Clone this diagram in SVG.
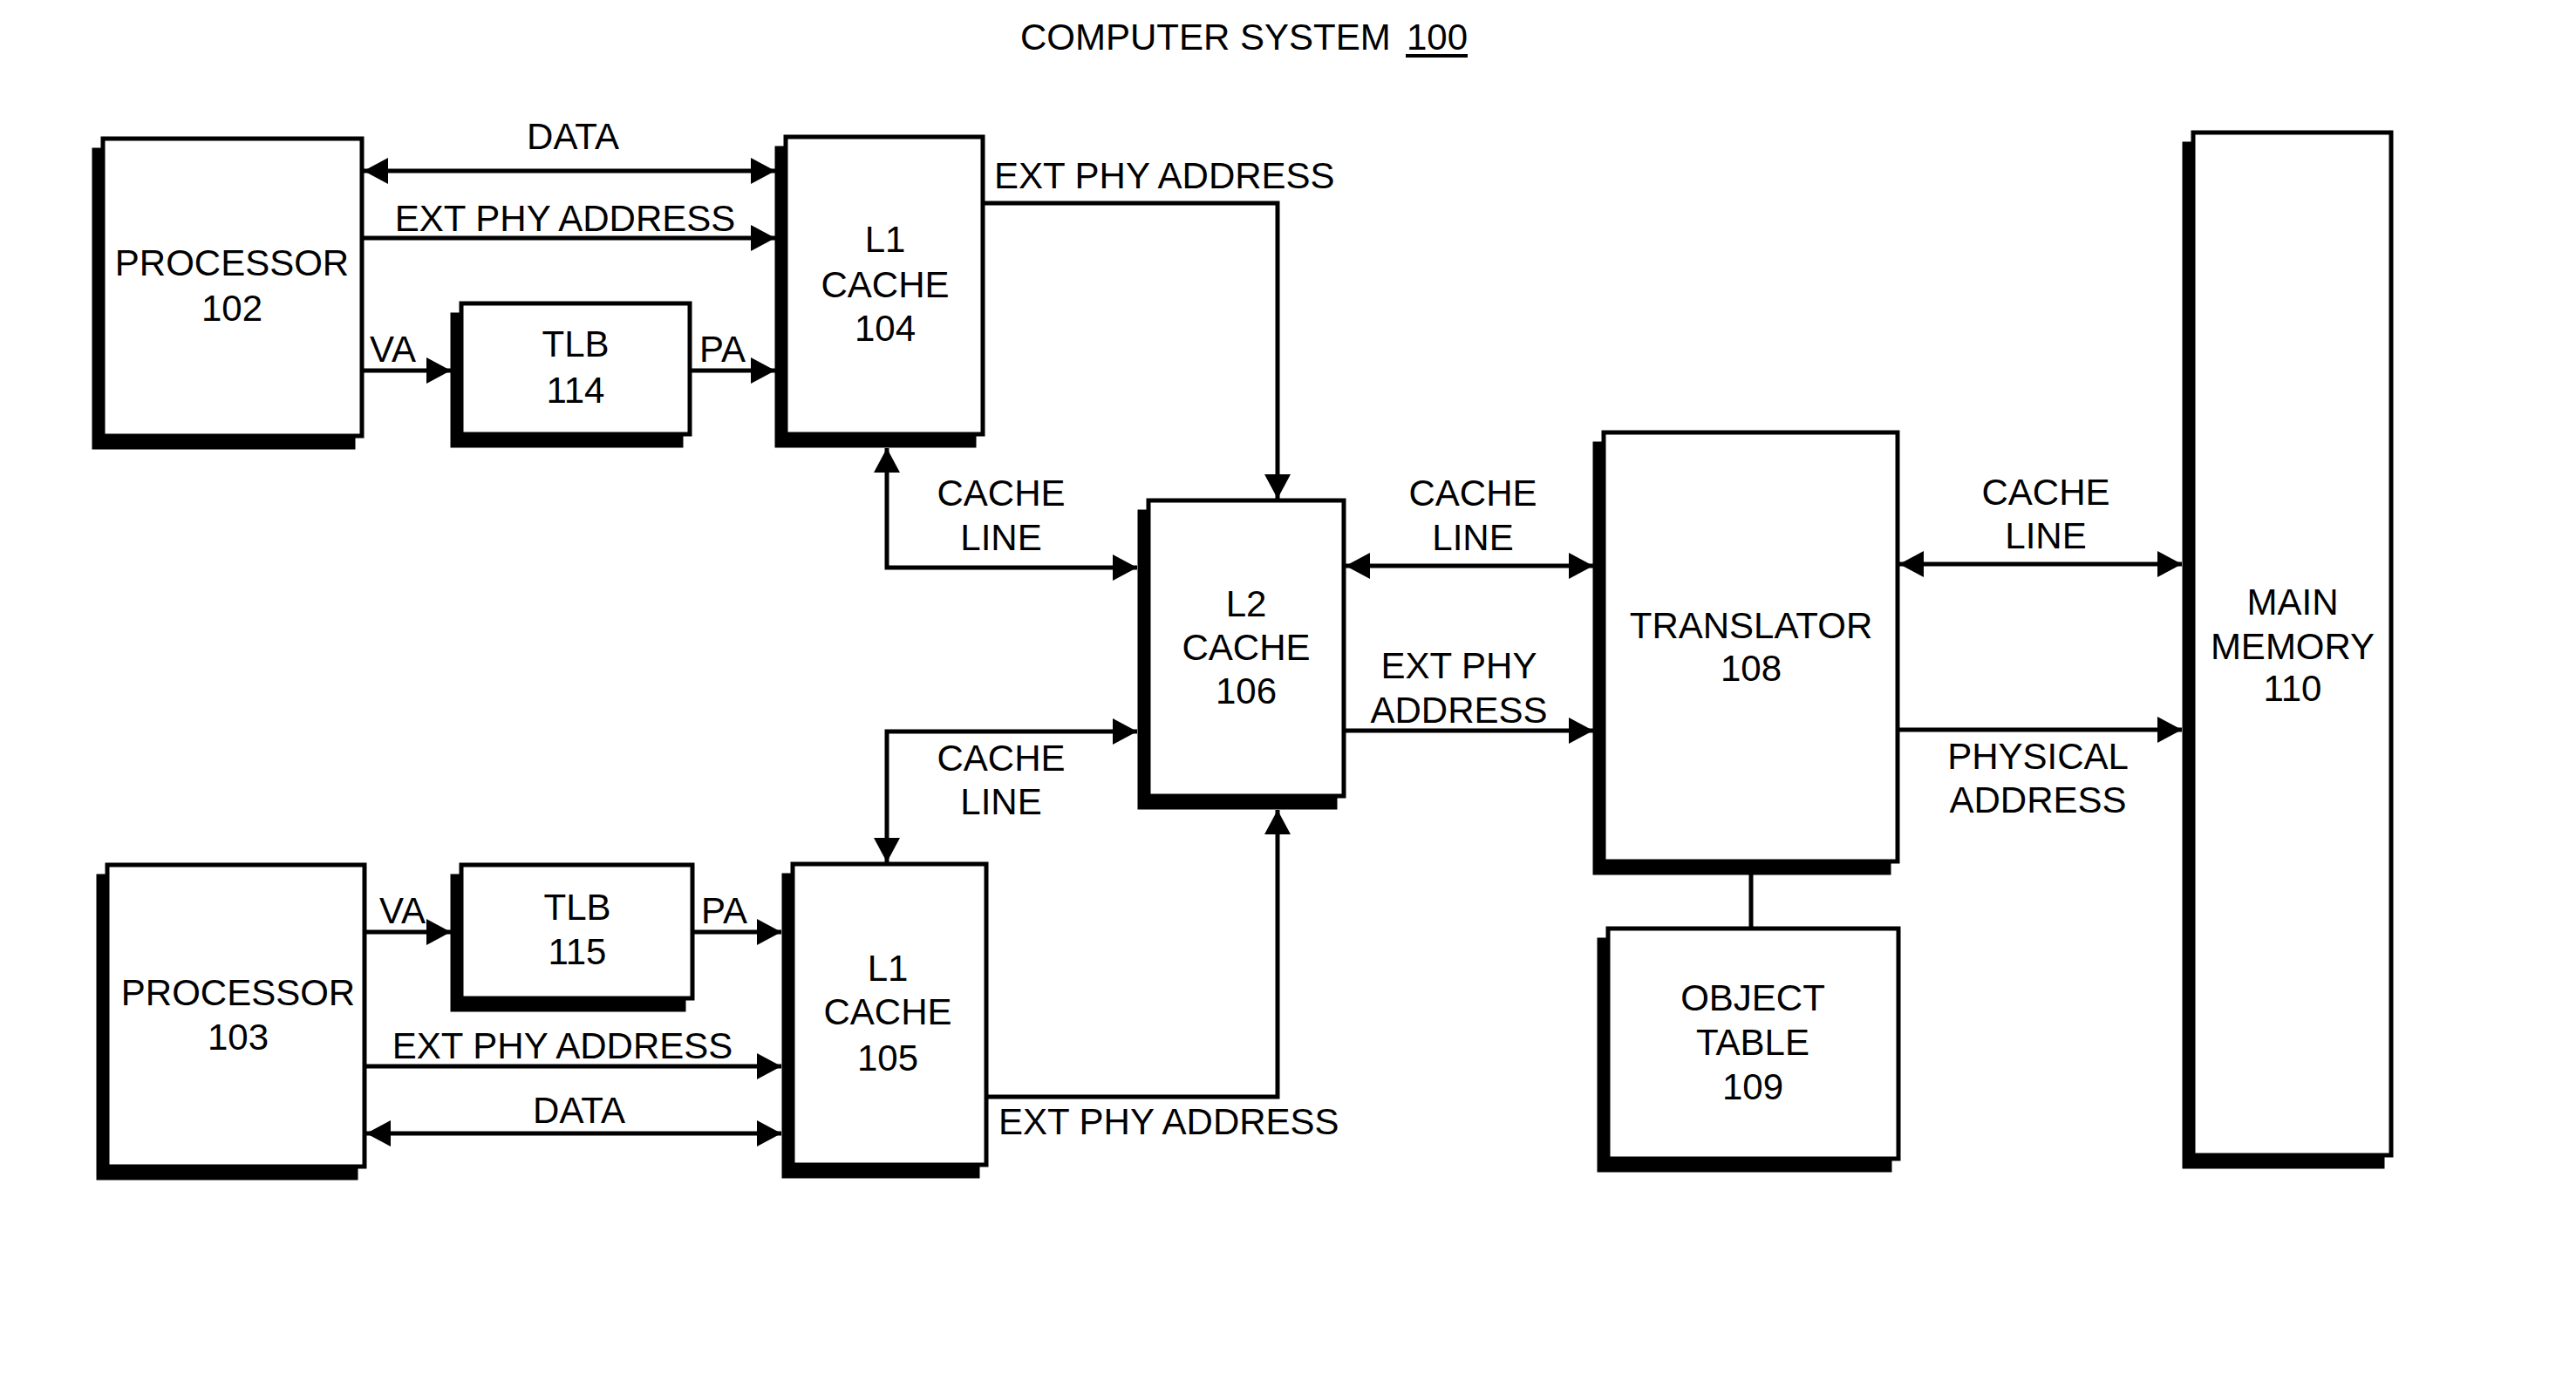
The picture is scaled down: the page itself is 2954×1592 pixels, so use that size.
<svg xmlns="http://www.w3.org/2000/svg" width="2954" height="1592" viewBox="0 0 2954 1592">
<defs>
<style>
text{font-family:"Liberation Sans",Arial,Helvetica,sans-serif;font-size:42px;fill:#000}
.c{text-anchor:middle}
.sh{fill:#000;stroke:#000;stroke-width:5}
.bx{fill:#fff;stroke:#000;stroke-width:5}
.ln{fill:none;stroke:#000;stroke-width:5}
</style>
<marker id="ah" markerUnits="userSpaceOnUse" markerWidth="28" markerHeight="30" refX="28" refY="15" orient="auto-start-reverse" viewBox="0 0 28 30">
<path d="M0,0 L28,15 L0,30 z" fill="#000"/>
</marker>
</defs>
<rect width="2954" height="1592" fill="#fff"/>
<g id="title">
<text x="1170" y="57">COMPUTER SYSTEM</text>
<text x="1613" y="57">100</text>
<line x1="1612" y1="64" x2="1683" y2="64" stroke="#000" stroke-width="4"/>
</g>
<g id="connectors">
<line class="ln" x1="417" y1="196" x2="889" y2="196" marker-start="url(#ah)" marker-end="url(#ah)"/>
<line class="ln" x1="417" y1="273" x2="889" y2="273" marker-end="url(#ah)"/>
<line class="ln" x1="417" y1="425" x2="517" y2="425" marker-end="url(#ah)"/>
<line class="ln" x1="793" y1="425" x2="889" y2="425" marker-end="url(#ah)"/>
<path class="ln" d="M1129,233 H1465 V572" marker-end="url(#ah)"/>
<path class="ln" d="M1017,514 V651 H1304" marker-start="url(#ah)" marker-end="url(#ah)"/>
<path class="ln" d="M1304,839 H1017 V989" marker-start="url(#ah)" marker-end="url(#ah)"/>
<path class="ln" d="M1133,1258 H1465 V929" marker-end="url(#ah)"/>
<line class="ln" x1="1543" y1="649" x2="1827" y2="649" marker-start="url(#ah)" marker-end="url(#ah)"/>
<line class="ln" x1="1543" y1="838" x2="1827" y2="838" marker-end="url(#ah)"/>
<line class="ln" x1="2178" y1="647" x2="2502" y2="647" marker-start="url(#ah)" marker-end="url(#ah)"/>
<line class="ln" x1="2178" y1="837" x2="2502" y2="837" marker-end="url(#ah)"/>
<line class="ln" x1="2008" y1="1001" x2="2008" y2="1065"/>
<line class="ln" x1="420" y1="1069" x2="517" y2="1069" marker-end="url(#ah)"/>
<line class="ln" x1="796" y1="1069" x2="896" y2="1069" marker-end="url(#ah)"/>
<line class="ln" x1="420" y1="1223" x2="896" y2="1223" marker-end="url(#ah)"/>
<line class="ln" x1="420" y1="1300" x2="896" y2="1300" marker-start="url(#ah)" marker-end="url(#ah)"/>
</g>
<g id="labels">
<text class="c" x="657" y="171">DATA</text>
<text class="c" x="648" y="265">EXT PHY ADDRESS</text>
<text x="424" y="415">VA</text>
<text x="802" y="415">PA</text>
<text x="1140" y="216">EXT PHY ADDRESS</text>
<text class="c" x="1148" y="580">CACHE</text>
<text class="c" x="1148" y="631">LINE</text>
<text class="c" x="1689" y="580">CACHE</text>
<text class="c" x="1689" y="631">LINE</text>
<text class="c" x="1673" y="778">EXT PHY</text>
<text class="c" x="1673" y="829">ADDRESS</text>
<text class="c" x="1148" y="884">CACHE</text>
<text class="c" x="1148" y="934">LINE</text>
<text class="c" x="2346" y="579">CACHE</text>
<text class="c" x="2346" y="629">LINE</text>
<text class="c" x="2337" y="882">PHYSICAL</text>
<text class="c" x="2337" y="932">ADDRESS</text>
<text x="435" y="1059">VA</text>
<text x="804" y="1059">PA</text>
<text class="c" x="645" y="1214">EXT PHY ADDRESS</text>
<text class="c" x="664" y="1288">DATA</text>
<text x="1145" y="1301">EXT PHY ADDRESS</text>
</g>
<g id="processor102">
<rect class="sh" x="108" y="172" width="297" height="341"/>
<rect class="bx" x="118" y="159" width="297" height="341"/>
<text class="c" x="266" y="316">PROCESSOR</text>
<text class="c" x="266" y="368">102</text>
</g>
<g id="tlb114">
<rect class="sh" x="519" y="361" width="262" height="150"/>
<rect class="bx" x="529" y="348" width="262" height="150"/>
<text class="c" x="660" y="409">TLB</text>
<text class="c" x="660" y="462">114</text>
</g>
<g id="l1cache104">
<rect class="sh" x="891" y="170" width="226" height="341"/>
<rect class="bx" x="901" y="157" width="226" height="341"/>
<text class="c" x="1015" y="289">L1</text>
<text class="c" x="1015" y="341">CACHE</text>
<text class="c" x="1015" y="391">104</text>
</g>
<g id="l2cache106">
<rect class="sh" x="1307" y="587" width="224" height="339"/>
<rect class="bx" x="1317" y="574" width="224" height="339"/>
<text class="c" x="1429" y="707">L2</text>
<text class="c" x="1429" y="757">CACHE</text>
<text class="c" x="1429" y="807">106</text>
</g>
<g id="translator108">
<rect class="sh" x="1829" y="509" width="337" height="492"/>
<rect class="bx" x="1839" y="496" width="337" height="492"/>
<text class="c" x="2008" y="732">TRANSLATOR</text>
<text class="c" x="2008" y="781">108</text>
</g>
<g id="objecttable109">
<rect class="sh" x="1834" y="1078" width="333" height="264"/>
<rect class="bx" x="1844" y="1065" width="333" height="264"/>
<text class="c" x="2010" y="1159">OBJECT</text>
<text class="c" x="2010" y="1210">TABLE</text>
<text class="c" x="2010" y="1261">109</text>
</g>
<g id="mainmemory110">
<rect class="sh" x="2505" y="165" width="227" height="1173"/>
<rect class="bx" x="2515" y="152" width="227" height="1173"/>
<text class="c" x="2629" y="705">MAIN</text>
<text class="c" x="2629" y="756">MEMORY</text>
<text class="c" x="2629" y="804">110</text>
</g>
<g id="processor103">
<rect class="sh" x="113" y="1005" width="295" height="346"/>
<rect class="bx" x="123" y="992" width="295" height="346"/>
<text class="c" x="273" y="1153">PROCESSOR</text>
<text class="c" x="273" y="1204">103</text>
</g>
<g id="tlb115">
<rect class="sh" x="519" y="1005" width="265" height="153"/>
<rect class="bx" x="529" y="992" width="265" height="153"/>
<text class="c" x="662" y="1055">TLB</text>
<text class="c" x="662" y="1106">115</text>
</g>
<g id="l1cache105">
<rect class="sh" x="899" y="1004" width="222" height="345"/>
<rect class="bx" x="909" y="991" width="222" height="345"/>
<text class="c" x="1018" y="1125">L1</text>
<text class="c" x="1018" y="1175">CACHE</text>
<text class="c" x="1018" y="1228">105</text>
</g>
</svg>
